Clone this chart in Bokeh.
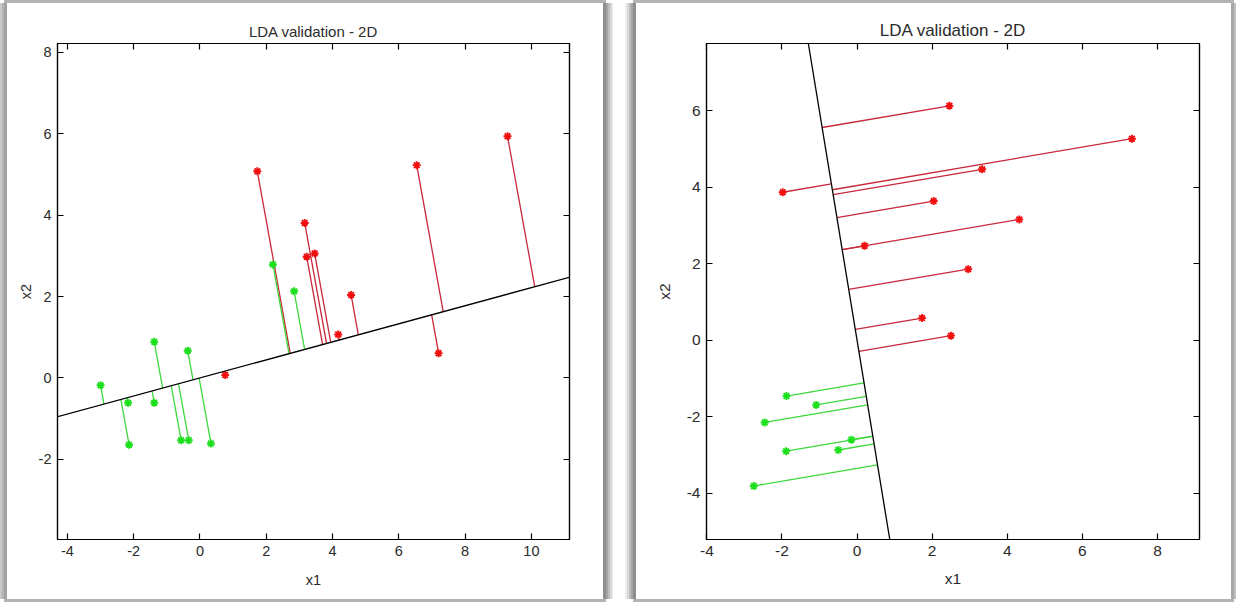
import numpy as np
from bokeh.plotting import figure
from bokeh.layouts import row
from bokeh.models import Slope, LinearAxis, FixedTicker, Range1d, PrintfTickFormatter
from bokeh.embed import file_html
from bokeh.resources import INLINE

TITLE = "LDA validation - 2D"
FONT = "Liberation Sans"

# ---- left panel: samples of both classes and the discriminant direction ----
left_red_x1 = [1.73, 3.16, 3.22, 3.46, 4.56, 6.54, 9.28, 4.17, 7.20, 0.76]
left_red_x2 = [5.08, 3.81, 2.98, 3.06, 2.04, 5.23, 5.94, 1.07, 0.61, 0.07]
left_green_x1 = [2.20, 2.84, -3.00, -2.17, -2.14, -1.38, -1.38, -0.37, -0.57, -0.34, 0.33]
left_green_x2 = [2.79, 2.13, -0.18, -0.61, -1.64, 0.89, -0.61, 0.67, -1.53, -1.53, -1.61]
left_direction = [1.0, 0.222]
left_x_range = [-4.30, 11.15]
left_y_range = [-3.97, 8.22]
left_x_ticks = [-4, -2, 0, 2, 4, 6, 8, 10]
left_y_ticks = [-2, 0, 2, 4, 6, 8]

# ---- right panel ----
right_red_x1 = [-1.98, 0.20, 2.04, 2.46, 7.32, 3.33, 4.32, 2.96, 2.50, 1.73]
right_red_x2 = [3.87, 2.47, 3.64, 6.13, 5.27, 4.47, 3.16, 1.86, 0.12, 0.58]
right_green_x1 = [-1.88, -1.09, -2.46, -0.15, -1.89, -0.50, -2.75]
right_green_x2 = [-1.46, -1.69, -2.15, -2.60, -2.90, -2.87, -3.81]
right_direction = [-1.0, 5.98]
right_x_range = [-4.01, 9.12]
right_y_range = [-5.21, 7.76]
right_x_ticks = [-4, -2, 0, 2, 4, 6, 8]
right_y_ticks = [-4, -2, 0, 2, 4, 6]

RED = "#f01010"
RED_LINE = "#c8283a"
GREEN = "#1ee01e"
GREEN_LINE = "#3cd83c"
TEXT = "#2b2b2b"


def project(xs, ys, d):
    """Orthogonal projection of the points onto the line through the origin along d."""
    d = np.asarray(d, dtype=float)
    pts = np.column_stack([xs, ys]).astype(float)
    t = pts @ d / (d @ d)
    return t * d[0], t * d[1]


def make_panel(red, green, direction, xr, yr, xticks, yticks, size, borders,
               title_size, tick_size, ylabel_standoff, xlabel_standoff, margin, shadow):
    w, h = size
    bl, br, bt, bb = borders
    p = figure(width=w, height=h, x_range=Range1d(*xr), y_range=Range1d(*yr),
               output_backend="svg", toolbar_location=None, title=TITLE,
               min_border_left=bl, min_border_right=br,
               min_border_top=bt, min_border_bottom=bb)
    p.margin = margin
    p.styles = {"box-shadow": shadow}
    p.background_fill_color = "white"
    p.border_fill_color = "white"
    p.outline_line_color = "black"
    p.outline_line_width = 1.2
    p.grid.visible = False

    p.title.align = "center"
    p.title.text_font = FONT
    p.title.text_font_style = "normal"
    p.title.text_font_size = title_size
    p.title.text_color = TEXT
    p.title.standoff = 8

    def style_axis(ax, ticks, labels):
        ax.ticker = FixedTicker(ticks=ticks)
        ax.minor_tick_line_color = None
        ax.major_tick_in = 6
        ax.major_tick_out = 0
        ax.major_tick_line_color = "black"
        ax.major_tick_line_width = 1.2
        ax.axis_line_color = "black"
        ax.axis_line_width = 1.2
        if labels:
            ax.formatter = PrintfTickFormatter(format="%d")
            ax.major_label_text_font = FONT
            ax.major_label_text_font_size = tick_size
            ax.major_label_text_color = TEXT
            ax.major_label_standoff = 6
            ax.axis_label_text_font = FONT
            ax.axis_label_text_font_size = tick_size
            ax.axis_label_text_font_style = "normal"
            ax.axis_label_text_color = TEXT
        else:
            # box edges carry tick marks only
            ax.major_label_text_color = None
            ax.major_label_text_font_size = "1px"
            ax.major_label_standoff = 0

    style_axis(p.xaxis[0], xticks, True)
    style_axis(p.yaxis[0], yticks, True)
    p.xaxis[0].axis_label = "x1"
    p.yaxis[0].axis_label = "x2"
    p.xaxis[0].axis_label_standoff = xlabel_standoff
    p.yaxis[0].axis_label_standoff = ylabel_standoff

    top = LinearAxis()
    style_axis(top, xticks, False)
    p.add_layout(top, "above")
    right = LinearAxis()
    style_axis(right, yticks, False)
    p.add_layout(right, "right")

    # discriminant direction
    p.add_layout(Slope(gradient=direction[1] / direction[0], y_intercept=0,
                       line_color="black", line_width=1.3))

    for (xs, ys), line_c, mark_c in ((red, RED_LINE, RED), (green, GREEN_LINE, GREEN)):
        px, py = project(xs, ys, direction)
        p.segment(x0=xs, y0=ys, x1=px, y1=py, line_color=line_c, line_width=1.3)
        p.scatter(xs, ys, marker="asterisk", size=8, line_color=mark_c, line_width=1.9)
        p.scatter(xs, ys, marker="circle", size=3, fill_color=mark_c, line_color=None)
    return p


# window frames: a thin grey rim with a soft shaded strip on the inner edges
left_shadow = ("3px 0 0 0 #8e8e8e, 5px 0 0 0 #a4a4a4, 7px 0 0 0 #bebebe, "
               "9px 0 0 0 #d8d8d8, 10px 0 0 0 #eeeeee, "
               "-3px 0 0 0 #a2a2a2, -5px 0 0 0 #b4b4b4, -7px 0 0 0 #c8c8c8, "
               "0 0 0 3px #b3b3b3")
right_shadow = ("-3px 0 0 0 #8e8e8e, -5px 0 0 0 #a4a4a4, -7px 0 0 0 #bebebe, "
                "-9px 0 0 0 #d8d8d8, -11px 0 0 0 #eeeeee, "
                "3px 0 0 0 #a8a8a8, 5px 0 0 0 #c0c0c0, "
                "0 0 0 3px #b3b3b3")

p_left = make_panel((left_red_x1, left_red_x2), (left_green_x1, left_green_x2), left_direction,
                    left_x_range, left_y_range, left_x_ticks, left_y_ticks,
                    (596, 596), (50, 34, 40, 60), "15px", "14.5px", 2, 13,
                    (3, 10, 3, 7), left_shadow)
p_right = make_panel((right_red_x1, right_red_x2), (right_green_x1, right_green_x2), right_direction,
                     right_x_range, right_y_range, right_x_ticks, right_y_ticks,
                     (595, 596), (70, 32, 38, 56), "17px", "15.5px", 11, 11,
                     (3, 5, 3, 11), right_shadow)

layout = row(p_left, p_right, spacing=12)
open("out.html", "w").write(file_html(layout, INLINE, title=TITLE))
